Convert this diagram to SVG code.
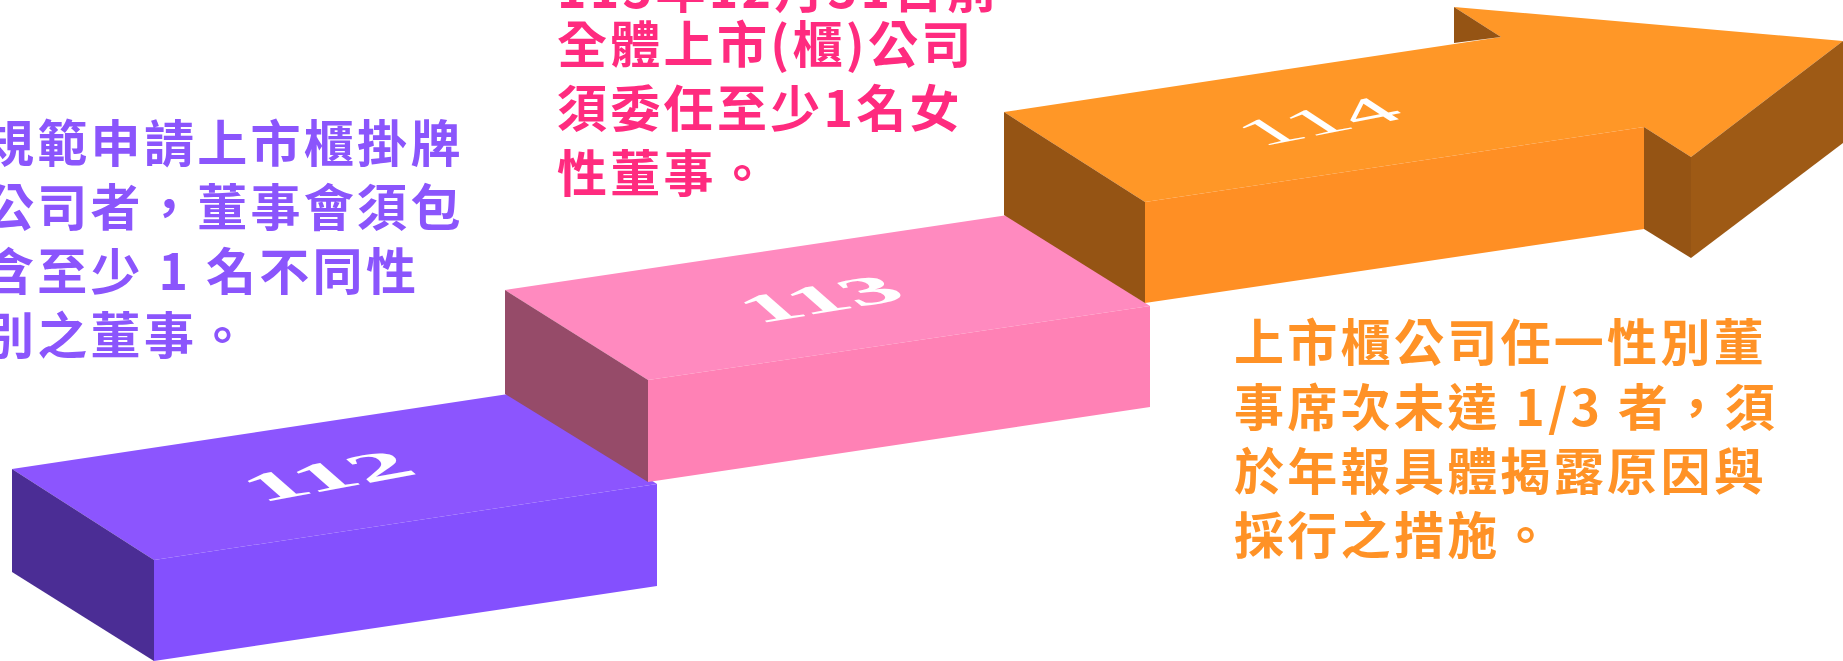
<svg xmlns="http://www.w3.org/2000/svg" width="1843" height="661" viewBox="0 0 1843 661">
<style>
.p{font-family:"Noto Sans CJK TC","Noto Sans CJK SC",sans-serif;font-size:50px;font-weight:700;letter-spacing:3.3px}
.purple{fill:#8B55FC}
.pink{fill:#FF2B7F}
.orange{fill:#FF9226}
.lbl{font-family:"Liberation Serif","Times New Roman",serif;font-size:100px;fill:#FFFFFF;text-anchor:middle}
</style>
<rect width="1843" height="661" fill="#FFFFFF"/>
<g id="step-112">
<polygon points="12,469 515,393 657,484 154,560" fill="#8C55FE"/>
<polygon points="154,560 657,484 657,586 154,661" fill="#8450FE"/>
<polygon points="12,469 154,560 154,661 12,572" fill="#4B2D95"/>
<text class="lbl" font-weight="700" transform="matrix(1.1,-0.2,0.41,0.36,341,488)">112</text>
</g>
<g id="step-113">
<polygon points="505,290 1008,215 1150,306 648,380" fill="#FF8ABF"/>
<polygon points="648,380 1150,306 1150,407 648,482" fill="#FF81B5"/>
<polygon points="505,290 648,380 648,482 505,394" fill="#964B69"/>
<text class="lbl" font-weight="700" transform="matrix(1.05,-0.175,0.41,0.36,834,311)">113</text>
</g>
<g id="step-114">
<polygon points="1004,112 1501,37 1454,7 1843,41 1691,157 1644,127 1145,202" fill="#FF9727"/>
<polygon points="1145,202 1644,127 1644,229 1145,303" fill="#FF8F24"/>
<polygon points="1004,112 1145,202 1145,303 1004,215" fill="#955414"/>
<polygon points="1644,127 1691,157 1691,258 1644,229" fill="#955414"/>
<polygon points="1691,157 1843,41 1843,143 1691,258" fill="#9E5A15"/>
<polygon points="1454,7 1501,37 1454,43" fill="#955414"/>
<text class="lbl" font-weight="400" transform="matrix(1.02,-0.2,0.49,0.32,1335,132)">114</text>
</g>
<g id="text-112">
<text class="p purple"><tspan x="-16" y="162">規範申請上市櫃掛牌</tspan><tspan x="-16" y="226">公司者，董事會須包</tspan><tspan x="-16" y="290">含至少 1 名不同性</tspan><tspan x="-16" y="354">別之董事。</tspan></text>
</g>
<g id="text-113">
<text class="p pink"><tspan x="557" y="8">113年12月31日前</tspan><tspan x="557" y="63">全體上市(櫃)公司</tspan><tspan x="557" y="127">須委任至少1名女</tspan><tspan x="557" y="192">性董事。</tspan></text>
</g>
<g id="text-114">
<text class="p orange"><tspan x="1234" y="361">上市櫃公司任一性別董</tspan><tspan x="1234" y="426">事席次未達 1/3 者，須</tspan><tspan x="1234" y="490">於年報具體揭露原因與</tspan><tspan x="1234" y="554">採行之措施。</tspan></text>
</g>
</svg>
